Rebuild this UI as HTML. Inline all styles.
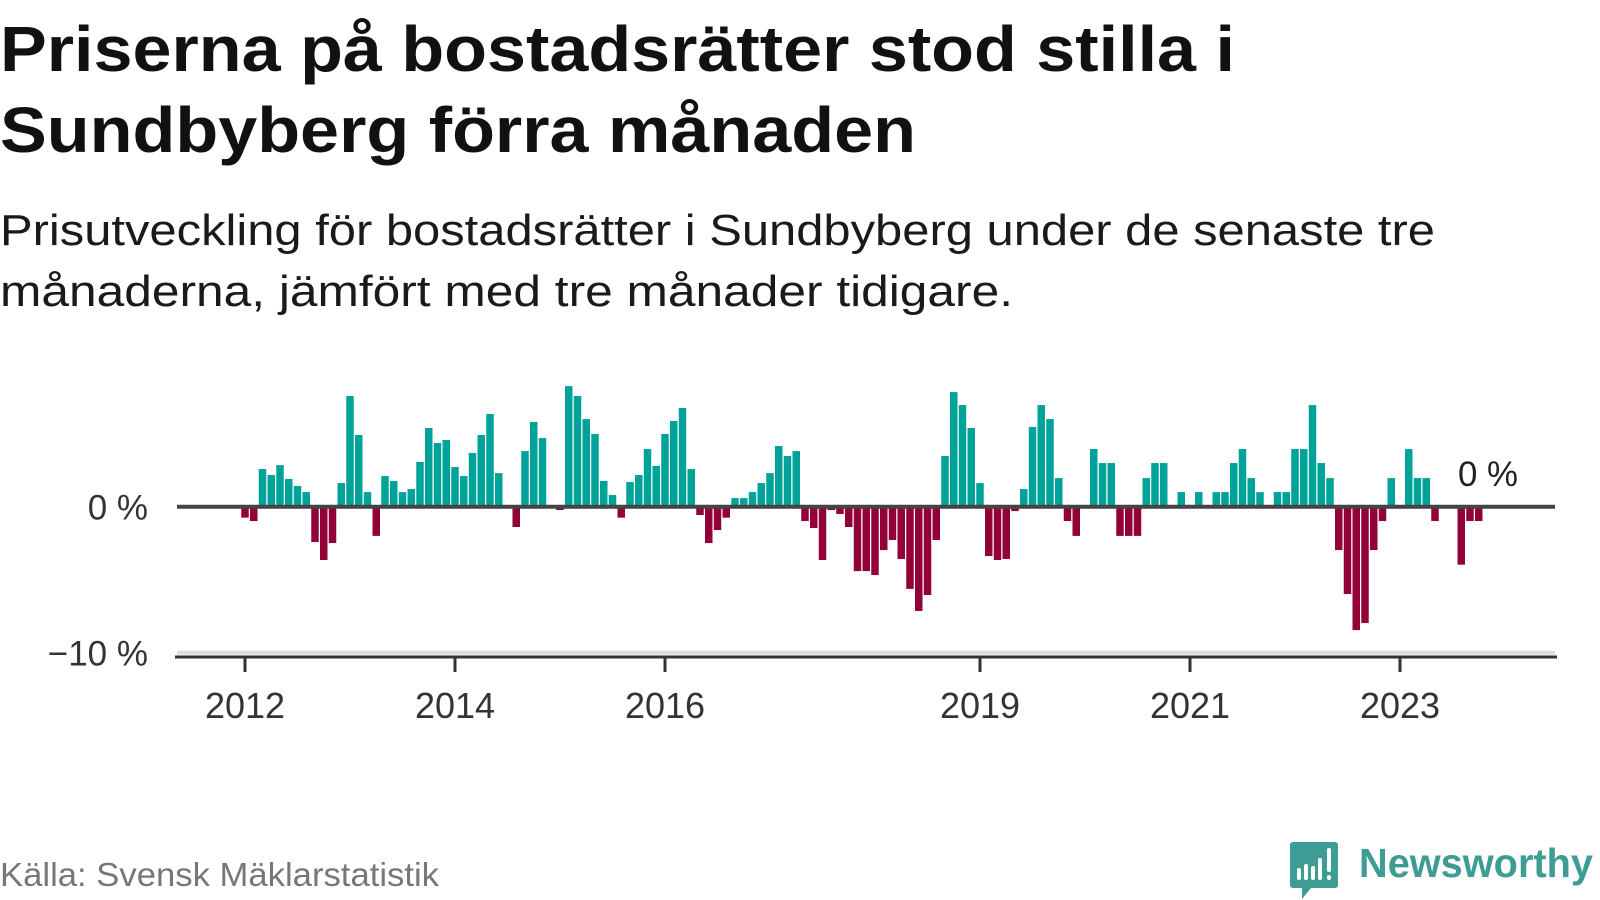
<!DOCTYPE html>
<html><head><meta charset="utf-8">
<style>
html,body{margin:0;padding:0;background:#fff;width:1600px;height:900px;overflow:hidden}
svg{display:block;font-family:"Liberation Sans",sans-serif}
</style></head>
<body>
<svg id="chart" width="1600" height="900" viewBox="0 0 1600 900">
  <text x="0" y="71" font-size="64" font-weight="bold" fill="#111" textLength="1235" lengthAdjust="spacingAndGlyphs">Priserna på bostadsrätter stod stilla i</text>
  <text x="0" y="152" font-size="64" font-weight="bold" fill="#111" textLength="916" lengthAdjust="spacingAndGlyphs">Sundbyberg förra månaden</text>
  <text x="0" y="245" font-size="44" fill="#1a1a1a" textLength="1435" lengthAdjust="spacingAndGlyphs">Prisutveckling för bostadsrätter i Sundbyberg under de senaste tre</text>
  <text x="0" y="306" font-size="44" fill="#1a1a1a" textLength="1013" lengthAdjust="spacingAndGlyphs">månaderna, jämfört med tre månader tidigare.</text>

  <line x1="177" y1="652.7" x2="1555" y2="652.7" stroke="#ddd" stroke-width="4"/>
  <g id="bars"></g>
  <g id="yaxis"></g>
  <g id="xaxis"></g>

  <text x="1458" y="486" font-size="35" fill="#222" textLength="60" lengthAdjust="spacingAndGlyphs">0 %</text>

  <text x="0" y="886" font-size="33" fill="#777" textLength="439" lengthAdjust="spacingAndGlyphs">Källa: Svensk Mäklarstatistik</text>
  <g>
    <path d="M1293,842 h42 a3,3 0 0 1 3,3 v40 a3,3 0 0 1 -3,3 h-24 l-9,11 v-11 h-9 a3,3 0 0 1 -3,-3 v-40 a3,3 0 0 1 3,-3z" fill="#3d9c94"/>
    <rect x="1297" y="868" width="4" height="12" rx="2" fill="#fff"/>
    <rect x="1304" y="864" width="4" height="16" rx="2" fill="#fff"/>
    <rect x="1311" y="866" width="4" height="14" rx="2" fill="#fff"/>
    <rect x="1318" y="858" width="4" height="22" rx="2" fill="#fff"/>
    <rect x="1327" y="848" width="4" height="24" rx="2" fill="#fff"/>
    <rect x="1327" y="875" width="4" height="5" rx="2" fill="#fff"/>
    <text x="1359" y="877" font-size="41" font-weight="bold" fill="#3d9c94" textLength="234" lengthAdjust="spacingAndGlyphs">Newsworthy</text>
  </g>
</svg>
<script>
// Monthly values starting Jan 2012 (null = no data)
const startYear = 2012;
const values = [-0.75,-0.98,2.58,2.17,2.85,1.9,1.42,1.0,-2.42,-3.65,-2.49,1.62,
7.58,4.91,1.0,-2.0,2.1,1.76,1.0,1.21,3.06,5.39,4.36,4.57,
2.72,2.1,3.68,4.91,6.35,2.3,null,-1.39,3.81,5.8,4.7,null,
-0.23,8.26,7.58,6.0,4.98,1.76,0.8,-0.75,1.69,2.17,3.95,2.79,
4.98,5.87,6.76,2.58,-0.57,-2.49,-1.6,-0.75,0.59,0.59,1.0,1.62,
2.3,4.16,3.47,3.81,-0.98,-1.46,-3.65,-0.23,-0.5,-1.39,-4.41,-4.41,
-4.68,-2.97,-2.28,-3.58,-5.63,-7.14,-6.05,-2.28,3.47,7.85,6.96,5.39,
1.62,-3.38,-3.65,-3.58,-0.3,1.21,5.46,6.96,6.0,1.96,-0.98,-2.0,
null,3.95,2.99,2.99,-2,-2,-2,1.96,2.99,2.99,null,1,
null,1,null,1,1,2.99,3.95,1.96,1,null,1,1,
3.95,3.95,6.96,2.99,1.96,-2.97,-5.98,-8.45,-7.97,-2.97,-0.98,1.96,
null,3.95,1.96,1.96,-0.98,null,null,-3.97,-0.98,-0.98,0];
const yTicks = [0, -10];
const yTickLabels = ["0 %", "\u221210 %"];
const xTicks = [2012, 2014, 2016, 2019, 2021, 2023];

const NS = "http://www.w3.org/2000/svg";
const x0 = 245, pxPerYear = 105;
const y0 = 506.7, pxPerPct = 14.6;
function xScale(monthIndex){ return x0 + monthIndex * pxPerYear / 12; }
function xYear(year){ return x0 + (year - startYear) * pxPerYear; }
function yScale(v){ return y0 - v * pxPerPct; }

const barsG = document.getElementById('bars');
const bw = 7.5;
values.forEach((v, i) => {
  if (v === null || v === 0) return;
  const r = document.createElementNS(NS, 'rect');
  const yTop = Math.min(yScale(v), yScale(0));
  r.setAttribute('x', (xScale(i) - bw/2).toFixed(2));
  r.setAttribute('y', yTop.toFixed(2));
  r.setAttribute('width', bw);
  r.setAttribute('height', Math.abs(yScale(v) - yScale(0)).toFixed(2));
  r.setAttribute('fill', v > 0 ? '#00a39a' : '#930038');
  
  
  barsG.appendChild(r);
});

const yG = document.getElementById('yaxis');
const zl = document.createElementNS(NS, 'line');
zl.setAttribute('x1', 177); zl.setAttribute('x2', 1555);
zl.setAttribute('y1', yScale(0)); zl.setAttribute('y2', yScale(0));
zl.setAttribute('stroke', '#444'); zl.setAttribute('stroke-width', 4);


yG.appendChild(zl);
yTicks.forEach((t, i) => {
  const tx = document.createElementNS(NS, 'text');
  tx.setAttribute('x', 148);
  tx.setAttribute('y', yScale(t) + 13);
  tx.setAttribute('text-anchor', 'end');
  tx.setAttribute('font-size', '35');
  tx.setAttribute('fill', '#333');
  tx.textContent = yTickLabels[i];
  
  
  yG.appendChild(tx);
});

const xG = document.getElementById('xaxis');
const ax = document.createElementNS(NS, 'line');
ax.setAttribute('x1', 175); ax.setAttribute('x2', 1557);
ax.setAttribute('y1', 657); ax.setAttribute('y2', 657);
ax.setAttribute('stroke', '#333'); ax.setAttribute('stroke-width', 3);


xG.appendChild(ax);
xTicks.forEach(yr => {
  const x = xYear(yr);
  const tk = document.createElementNS(NS, 'line');
  tk.setAttribute('x1', x); tk.setAttribute('x2', x);
  tk.setAttribute('y1', 657); tk.setAttribute('y2', 672);
  tk.setAttribute('stroke', '#333'); tk.setAttribute('stroke-width', 3);
  
  
  xG.appendChild(tk);
  const tx = document.createElementNS(NS, 'text');
  tx.setAttribute('x', x);
  tx.setAttribute('y', 718);
  tx.setAttribute('text-anchor', 'middle');
  tx.setAttribute('font-size', '36');
  tx.setAttribute('fill', '#333');
  tx.textContent = String(yr);
  
  
  xG.appendChild(tx);
});
</script>
</body></html>
